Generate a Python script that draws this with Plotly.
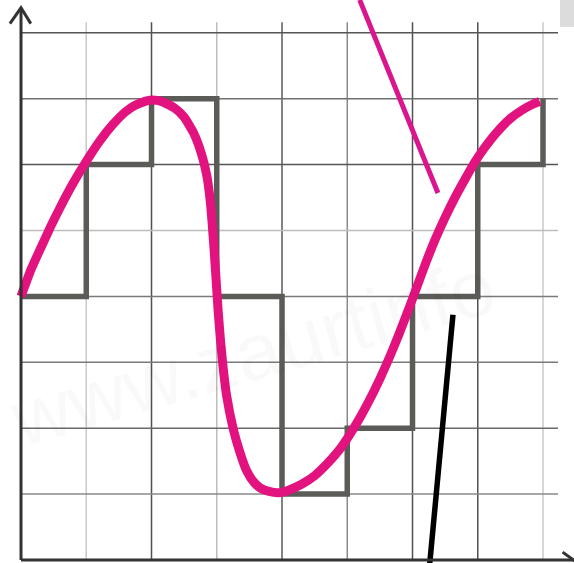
import plotly.graph_objects as go

# Analog signal (magenta curve) in grid units
curve_x = [0.0, 0.15, 0.3, 0.45, 0.6, 0.8, 1.0, 1.2, 1.4, 1.6, 1.75, 1.9, 2.0,
           2.15, 2.35, 2.5, 2.65, 2.77, 2.85, 2.9, 2.93, 2.96, 2.99, 3.02,
           3.06, 3.1, 3.15, 3.25, 3.35, 3.46, 3.57, 3.67, 3.8, 3.95, 4.1, 4.3,
           4.5, 4.7, 4.9, 5.1, 5.3, 5.5, 5.7, 5.9, 6.07, 6.2, 6.35, 6.5, 6.65,
           6.8, 6.95, 7.1, 7.3, 7.5, 7.7, 7.85, 7.95]
curve_y = [4.0, 4.4, 4.73, 5.05, 5.35, 5.72, 6.05, 6.35, 6.6, 6.8, 6.9, 6.96, 6.98,
           6.96, 6.86, 6.72, 6.47, 6.15, 5.82, 5.45, 5.1, 4.7, 4.25, 3.8,
           3.3, 2.9, 2.5, 2.0, 1.65, 1.35, 1.18, 1.09, 1.04, 1.02, 1.06, 1.15,
           1.28, 1.47, 1.7, 2.0, 2.35, 2.75, 3.2, 3.7, 4.15, 4.5, 4.87, 5.2, 5.5,
           5.77, 6.03, 6.25, 6.5, 6.7, 6.84, 6.92, 6.96]

# Digital (sampled) signal, step function
step_x = [0, 1, 2, 3, 4, 5, 6, 7, 8]
step_y = [4, 6, 7, 4, 1, 2, 4, 6, 7]

# Pointer lines
pointer_pink_x = [5.19, 6.39]
pointer_pink_y = [8.5, 5.57]
pointer_black_x = [6.62, 6.26]
pointer_black_y = [3.72, -0.1]

# Grid
grid_v = [1, 2, 3, 4, 5, 6, 7, 8]
grid_v_colors = ["#c8c8c8", "#505050", "#bdbdbd", "#5a5a5a", "#8a8a8a", "#505050", "#505050", "#cacaca"]
grid_h = [1, 2, 3, 4, 5, 6, 7, 8]
grid_h_colors = ["#8a8a8a", "#6a6a6a", "#7a7a7a", "#7a7a7a", "#bdbdbd", "#555555", "#707070", "#555555"]
grid_v_top = 8.16
grid_h_right = 8.23

# Axes with arrow heads
yaxis_x = [0, 0]
yaxis_y = [0, 8.36]
yarrow_x = [-0.17, 0, 0.15]
yarrow_y = [8.14, 8.38, 8.14]
xaxis_x = [0, 8.6]
xaxis_y = [0, 0]
xarrow_x = [8.3, 8.55]
xarrow_y = [0.12, -0.06]

fig = go.Figure()

for gx, c in zip(grid_v, grid_v_colors):
    fig.add_trace(go.Scatter(x=[gx, gx], y=[0, grid_v_top], mode="lines",
                             line=dict(color=c, width=1.5), hoverinfo="skip"))
for gy, c in zip(grid_h, grid_h_colors):
    fig.add_trace(go.Scatter(x=[0, grid_h_right], y=[gy, gy], mode="lines",
                             line=dict(color=c, width=1.5), hoverinfo="skip"))

fig.add_trace(go.Scatter(x=step_x, y=step_y, mode="lines", line_shape="hv",
                         line=dict(color="#5b5b57", width=5.5)))
fig.add_trace(go.Scatter(x=curve_x, y=curve_y, mode="lines",
                         line=dict(color="#e2127f", width=9, shape="spline", smoothing=0.5)))

fig.add_trace(go.Scatter(x=pointer_pink_x, y=pointer_pink_y, mode="lines",
                         line=dict(color="#d9168e", width=5)))
fig.add_trace(go.Scatter(x=pointer_black_x, y=pointer_black_y, mode="lines",
                         line=dict(color="#000000", width=5.5)))

fig.add_trace(go.Scatter(x=yaxis_x, y=yaxis_y, mode="lines", line=dict(color="#333333", width=3)))
fig.add_trace(go.Scatter(x=yarrow_x, y=yarrow_y, mode="lines", line=dict(color="#333333", width=3)))
fig.add_trace(go.Scatter(x=xaxis_x, y=xaxis_y, mode="lines", line=dict(color="#333333", width=3)))
fig.add_trace(go.Scatter(x=xarrow_x, y=xarrow_y, mode="lines", line=dict(color="#333333", width=3)))

fig.add_annotation(x=3.55, y=3.15, xref="x", yref="y", text="www.zaurtinfo",
                   showarrow=False, textangle=-16,
                   font=dict(family="Arial, Liberation Sans", size=80, color="rgba(0,0,0,0.025)"))

fig.add_shape(type="rect", xref="x", yref="y", x0=8.26, x1=8.6, y0=8.09, y1=8.6,
              fillcolor="#dcdcdc", line=dict(width=0), layer="below")

fig.update_layout(
    width=574, height=563,
    margin=dict(l=0, r=0, t=0, b=0),
    paper_bgcolor="white", plot_bgcolor="white",
    showlegend=False,
    xaxis=dict(range=[-0.322, 8.475], visible=False, fixedrange=True),
    yaxis=dict(range=[-0.0455, 8.498], visible=False, fixedrange=True),
)

fig.write_html("out.html", config={"displayModeBar": False},
               post_script="document.body.style.margin='0';document.body.style.overflow='hidden';")
